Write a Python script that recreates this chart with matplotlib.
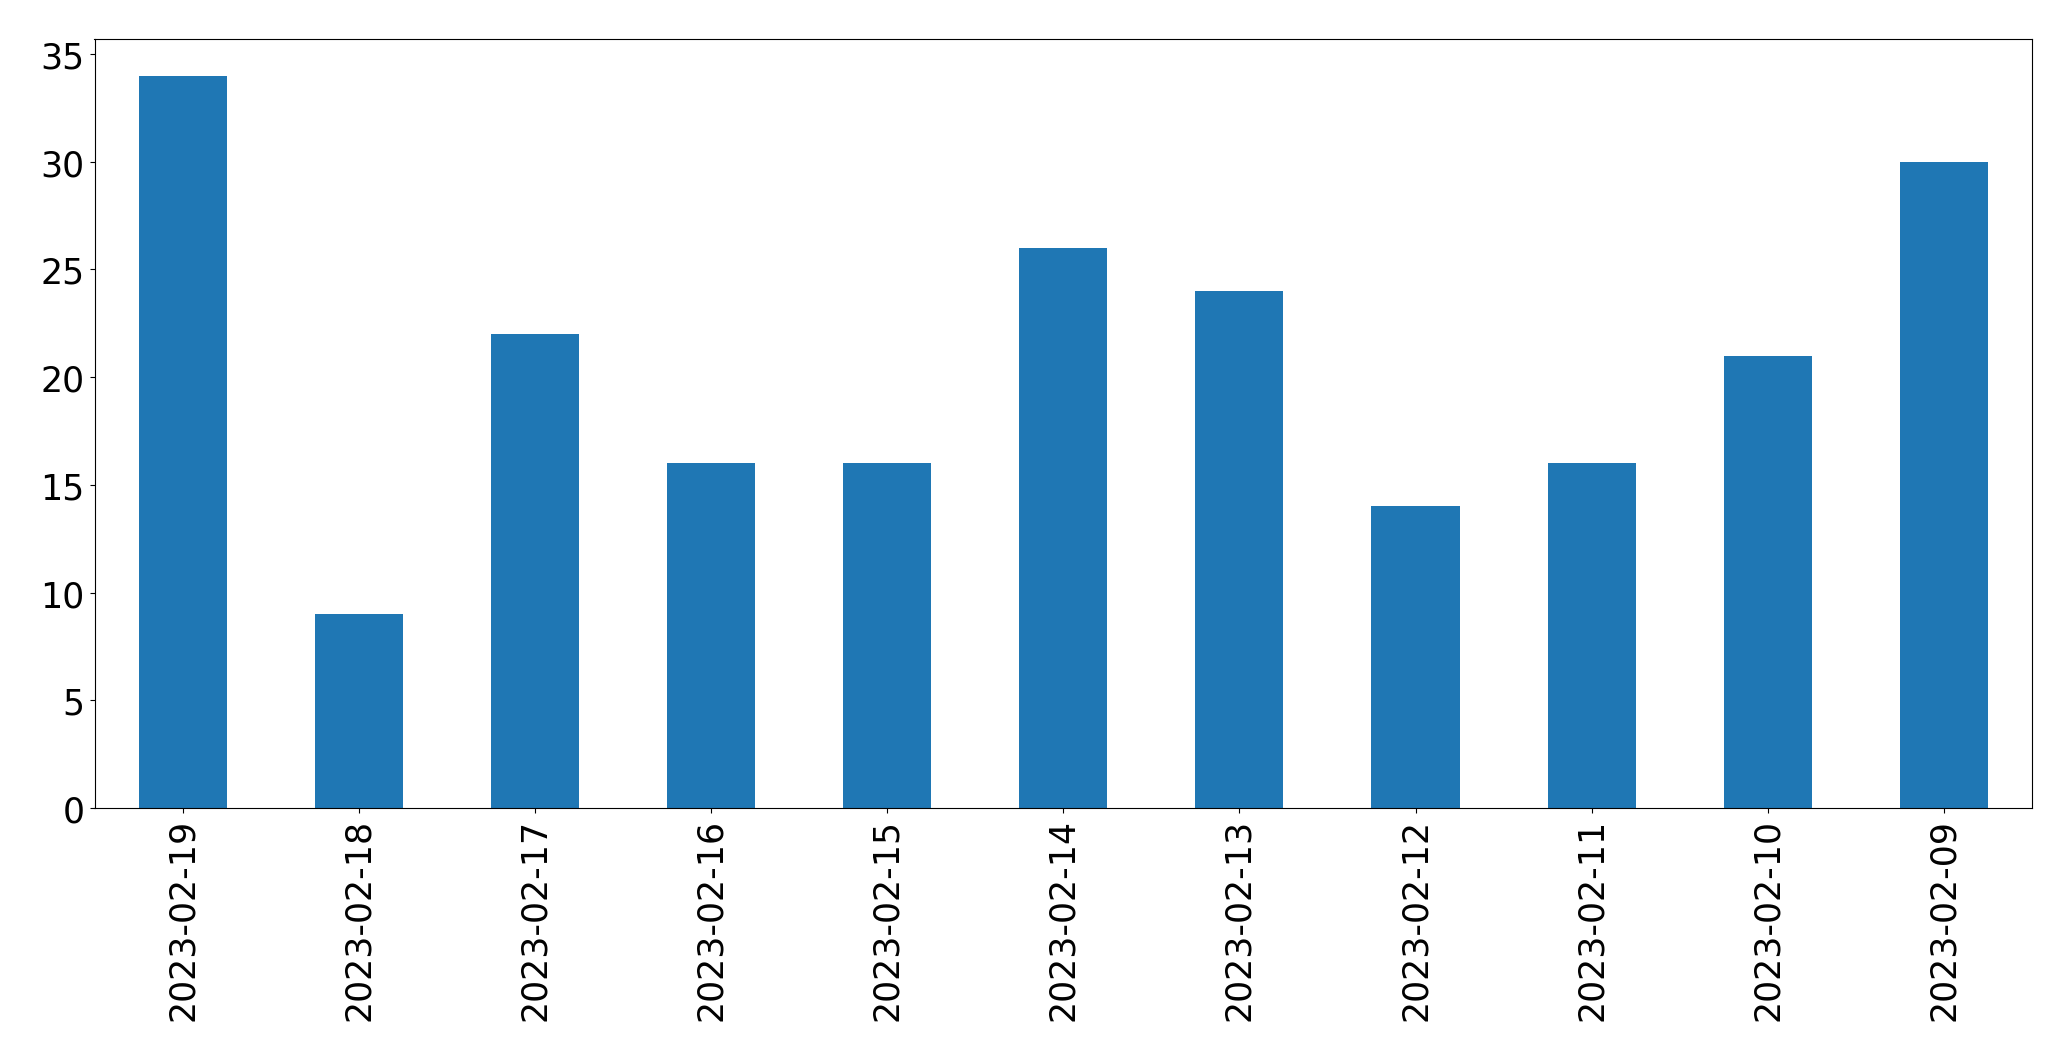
import matplotlib
matplotlib.use('Agg')
import matplotlib.pyplot as plt
import pandas as pd

dates = ['2023-02-19', '2023-02-18', '2023-02-17', '2023-02-16', '2023-02-15', '2023-02-14',
         '2023-02-13', '2023-02-12', '2023-02-11', '2023-02-10', '2023-02-09']
counts = [34, 9, 22, 16, 16, 26, 24, 14, 16, 21, 30]

s = pd.Series(counts, index=dates)

fig = plt.figure(figsize=(20.71, 10.6099), dpi=100)
ax = fig.add_axes([94.5 / 2071, 1 - 809 / 1061, (2032 - 94.5) / 2071, (809 - 40) / 1061])
s.plot(kind='bar', ax=ax, color='#1f77b4')
ax.tick_params(axis='both', labelsize=25)
ax.set_yticks([0, 5, 10, 15, 20, 25, 30, 35])

fig.savefig('out.png', dpi=100)
